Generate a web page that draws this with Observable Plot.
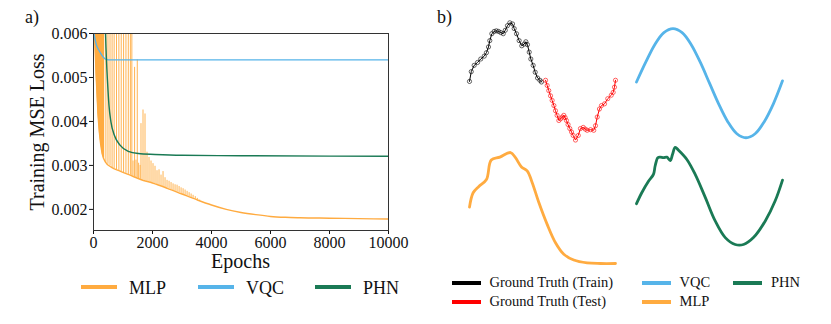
<!DOCTYPE html>
<html><head><meta charset="utf-8">
<script src="https://cdn.jsdelivr.net/npm/d3@7"></script>
<script src="https://cdn.jsdelivr.net/npm/@observablehq/plot@0.6"></script>
<style>
body{margin:0;background:#fff;}
#root{position:relative;width:831px;height:324px;overflow:hidden;background:#fff;font-family:"Liberation Serif","Times New Roman",serif;color:#111;}
.sw{position:absolute;}
.txt{position:absolute;white-space:nowrap;line-height:1;font-family:"Liberation Serif","Times New Roman",serif;}
svg{overflow:visible;}
svg text{font-family:"Liberation Serif","Times New Roman",serif !important;}
</style></head><body><div id="root"></div>
<script>
// ---------- colours ----------
const C_MLP = "#ffab40", C_VQC = "#56b4e9", C_PHN = "#1a7a55", C_TRAIN = "#000000", C_TEST = "#ff0000";

// ---------- panel a: training loss ----------
const epochTicks = [0, 2000, 4000, 6000, 8000, 10000];
const lossTicks = [0.002, 0.003, 0.004, 0.005, 0.006];

const mlpEpochs = [0, 50, 100, 150, 200, 300, 400, 600, 900, 1200, 1600, 2000, 2500, 3000, 3500, 4000, 4500, 5000, 5500, 6000, 6500, 7000, 8000, 9000, 10000];
const mlpLoss   = [0.0070, 0.00575, 0.00490, 0.00420, 0.00375, 0.00325, 0.00308, 0.00296, 0.00287, 0.00279, 0.00268, 0.00260, 0.00248, 0.00235, 0.00222, 0.00210, 0.00200, 0.00193, 0.00188, 0.00184, 0.00182, 0.00181, 0.00180, 0.00179, 0.00178];

// dense oscillation band at the start of MLP training (upper envelope above the axis)
const mlpBandEpochs = [0, 50, 100, 150, 200, 300, 380];
const mlpBandTop    = [0.0070, 0.0070, 0.0070, 0.0070, 0.0070, 0.0070, 0.0070];

// individual MLP loss spikes: epoch and peak loss
const spikeEpochs = [420, 490, 560, 630, 700, 780, 860, 940, 1020, 1100, 1180, 1250, 1300, 1340, 1393, 1440, 1484, 1530, 1580, 1610, 1678, 1746, 1814, 1882, 1950, 2017, 2085, 2153, 2221, 2289, 2357, 2425, 2493, 2561, 2629, 2697, 2765, 2833, 2901, 2969, 3037, 3105, 3173, 3241, 3309, 3376, 3450, 3520, 3600];
const spikePeaks  = [0.0070, 0.0070, 0.0070, 0.0070, 0.0070, 0.0070, 0.0070, 0.0070, 0.0070, 0.0070, 0.0070, 0.0070, 0.0070, 0.00310, 0.00523, 0.00312, 0.00540, 0.00305, 0.00300, 0.00395, 0.00426, 0.00417, 0.00330, 0.00318, 0.00310, 0.00304, 0.00298, 0.00288, 0.00290, 0.00278, 0.00286, 0.00272, 0.00266, 0.00264, 0.00261, 0.00258, 0.00256, 0.00255, 0.00252, 0.00249, 0.00247, 0.00244, 0.00241, 0.00238, 0.00235, 0.00232, 0.00229, 0.00225, 0.00221];

const vqcEpochs = [0, 50, 100, 150, 200, 250, 300, 350, 400, 450, 500, 1000, 10000];
const vqcLoss   = [0.00605, 0.00588, 0.00574, 0.00566, 0.00560, 0.00554, 0.00549, 0.00545, 0.00542, 0.00541, 0.00540, 0.00540, 0.00540];

const phnEpochs = [360, 380, 408, 442, 476, 524, 591, 704, 898, 1178, 1518, 2085, 3000, 5000, 10000];
const phnLoss   = [0.0078, 0.0068, 0.00600, 0.00535, 0.00490, 0.00437, 0.00399, 0.00369, 0.00346, 0.00332, 0.00327, 0.00325, 0.00323, 0.00322, 0.00321];

// ---------- panel b: predictions ----------
const gtTrainStep  = [0, 1.2, 3.2, 5.5, 7.7, 10.1, 11.6, 13, 13.9, 15.3, 16.9, 18.4, 19.9, 21.4, 23.1, 24.5, 26, 27.6, 29.5, 30.6, 32.2, 34, 35.8, 37.5, 38.6, 39.7, 40.9, 42, 43.6, 45, 46.6, 48.2, 49.3];
const gtTrainValue = [0.01, 0.18, 0.29, 0.34, 0.40, 0.45, 0.51, 0.61, 0.72, 0.84, 0.88, 0.89, 0.88, 0.86, 0.84, 0.90, 0.98, 1.03, 1.01, 0.93, 0.84, 0.72, 0.63, 0.66, 0.70, 0.65, 0.52, 0.40, 0.29, 0.17, 0.07, 0.03, 0.00];
const gtTestStep   = [52.1, 53.2, 54.3, 55.5, 56.6, 57.8, 58.9, 60, 61.2, 62.4, 63.5, 64.6, 65.5, 66.4, 67.5, 68.7, 69.9, 71, 72.6, 74.5, 76, 77.9, 79.3, 80.6, 82.9, 85.1, 86.3, 87.5, 89, 90.4, 92.5, 94.7, 97.1, 98.4, 99.3, 100];
const gtTestValue  = [0.03, -0.06, -0.15, -0.24, -0.32, -0.41, -0.50, -0.58, -0.67, -0.64, -0.61, -0.58, -0.62, -0.67, -0.74, -0.81, -0.87, -0.93, -1.01, -0.93, -0.81, -0.79, -0.82, -0.84, -0.83, -0.84, -0.76, -0.61, -0.47, -0.41, -0.38, -0.29, -0.23, -0.18, -0.09, 0.03];

const vqcStep  = [0, 6.25, 12.5, 18.75, 25, 31.25, 37.5, 43.75, 50, 56.25, 62.5, 68.75, 75, 81.25, 87.5, 93.75, 100];
const vqcValue = [0.00, 0.34, 0.65, 0.86, 0.93, 0.86, 0.65, 0.34, -0.02, -0.38, -0.69, -0.90, -0.97, -0.90, -0.69, -0.38, 0.02];

const mlpStep  = [0, 2.5, 6.4, 11.6, 14.9, 20.8, 28.1, 31.5, 35.6, 39.5, 42.9, 47.5, 53.2, 58.9, 64.6, 71.4, 80.6, 89.7, 100];
const mlpValue = [-0.02, 0.23, 0.34, 0.46, 0.80, 0.85, 0.93, 0.84, 0.68, 0.61, 0.41, 0.06, -0.32, -0.64, -0.84, -0.94, -0.99, -1.00, -1.00];

const phnStep  = [0, 3.6, 8.2, 11.6, 12.8, 14.6, 16.2, 18.5, 20.8, 23.1, 24.7, 26.5, 28.8, 34.5, 40.2, 47.1, 53.9, 60.8, 67.6, 73.3, 80.1, 88.2, 95, 100];
const phnValue = [0.04, 0.23, 0.43, 0.55, 0.70, 0.84, 0.85, 0.84, 0.85, 0.79, 0.90, 1.02, 0.97, 0.81, 0.55, 0.15, -0.26, -0.55, -0.67, -0.67, -0.55, -0.26, 0.09, 0.45];

// ---------- build ----------
const root = document.getElementById("root");
const zip = (xs, ys) => xs.map((x, i) => ({x, y: ys[i]}));
const mlpBase = zip(mlpEpochs, mlpLoss);
const baseAt = d3.scaleLinear().domain(mlpEpochs).range(mlpLoss);
const band = mlpBandEpochs.map((e, i) => ({x: e, y1: baseAt(e), y2: mlpBandTop[i]}));
const spikes = spikeEpochs.map((e, i) => ({x: e, y1: baseAt(e), y2: spikePeaks[i]}));

const plotA = Plot.plot({
  width: 420, height: 275, marginLeft: 93, marginRight: 32, marginTop: 33, marginBottom: 45,
  style: {fontFamily: "Liberation Serif", fontSize: "16px", color: "#111", background: "transparent", overflow: "visible"},
  x: {domain: [0, 10000], ticks: epochTicks, tickFormat: "d", tickSize: 4, tickPadding: 2, label: null},
  y: {domain: [0.00152, 0.006], ticks: lossTicks, tickFormat: ".3f", tickSize: 4, tickPadding: 2, label: null},
  marks: [
    Plot.areaY(band, {x: "x", y1: "y1", y2: "y2", fill: C_MLP, clip: true}),
    Plot.ruleX(spikes, {x: "x", y1: "y1", y2: "y2", stroke: C_MLP, strokeWidth: 0.9, clip: true}),
    Plot.line(mlpBase, {x: "x", y: "y", stroke: C_MLP, strokeWidth: 1.4, curve: "monotone-x", clip: true}),
    Plot.line(zip(vqcEpochs, vqcLoss), {x: "x", y: "y", stroke: C_VQC, strokeWidth: 1.4, curve: "monotone-x", clip: true}),
    Plot.line(zip(phnEpochs, phnLoss), {x: "x", y: "y", stroke: C_PHN, strokeWidth: 1.4, curve: "monotone-x", clip: true}),
    Plot.frame({stroke: "#333", strokeWidth: 1})
  ]
});
plotA.style.position = "absolute"; plotA.style.left = "0px"; plotA.style.top = "0px";
root.append(plotA);

function mini(left, top, marks) {
  const p = Plot.plot({
    width: 156, height: 133, margin: 5,
    style: {background: "transparent", overflow: "visible"},
    x: {domain: [0, 100], axis: null},
    y: {domain: [-1.07, 1.07], axis: null},
    marks
  });
  p.style.position = "absolute"; p.style.left = left + "px"; p.style.top = top + "px";
  root.append(p);
}
const train = zip(gtTrainStep, gtTrainValue), test = zip(gtTestStep, gtTestValue);
mini(464, 15, [
  Plot.line(train, {x: "x", y: "y", stroke: C_TRAIN, strokeWidth: 1}),
  Plot.dot(train, {x: "x", y: "y", r: 2.1, stroke: C_TRAIN, strokeOpacity: 0.75, strokeWidth: 0.8, fill: "none"}),
  Plot.line(test, {x: "x", y: "y", stroke: C_TEST, strokeWidth: 1}),
  Plot.dot(test, {x: "x", y: "y", r: 2.1, stroke: C_TEST, strokeOpacity: 0.75, strokeWidth: 0.8, fill: "none"})
]);
mini(631, 15, [Plot.line(zip(vqcStep, vqcValue), {x: "x", y: "y", stroke: C_VQC, strokeWidth: 2.8, curve: "catmull-rom"})]);
mini(464, 138.5, [Plot.line(zip(mlpStep, mlpValue), {x: "x", y: "y", stroke: C_MLP, strokeWidth: 2.8, curve: "catmull-rom"})]);
mini(631, 138.5, [Plot.line(zip(phnStep, phnValue), {x: "x", y: "y", stroke: C_PHN, strokeWidth: 2.8, curve: "catmull-rom"})]);

// ---------- texts & legends ----------
function txt(s, left, top, size, extra) {
  const d = document.createElement("div");
  d.className = "txt"; d.textContent = s;
  d.style.left = left + "px"; d.style.top = top + "px"; d.style.fontSize = size + "px";
  if (extra) Object.assign(d.style, extra);
  root.append(d); return d;
}
function sw(color, left, cy, w, h) {
  const d = document.createElement("div");
  d.className = "sw"; d.style.background = color;
  d.style.left = left + "px"; d.style.top = (cy - h / 2) + "px"; d.style.width = w + "px"; d.style.height = h + "px";
  root.append(d);
}
txt("a)", 25, 8, 18);
txt("b)", 437, 8, 18);
txt("Epochs", 240.5, 251, 20, {transform: "translateX(-50%)"});
txt("Training MSE Loss", 37, 131.5, 20, {transform: "translate(-50%,-50%) rotate(-90deg)", lineHeight: "20px"});

const legendA = [["MLP", C_MLP, 81, 129], ["VQC", C_VQC, 198, 246], ["PHN", C_PHN, 315, 363]];
legendA.forEach(([name, c, sx, tx]) => { sw(c, sx, 287, 36, 4); txt(name, tx, 278.5, 18); });

const legendB = [
  ["Ground Truth (Train)", C_TRAIN, 452, 489.5, 282.6],
  ["Ground Truth (Test)", C_TEST, 452, 489.5, 301.7],
  ["VQC", C_VQC, 642, 679.5, 282.6],
  ["MLP", C_MLP, 642, 679.5, 301.7],
  ["PHN", C_PHN, 733, 771, 282.6]
];
legendB.forEach(([name, c, sx, tx, cy]) => { sw(c, sx, cy, 29, 4); txt(name, tx, cy - 7.3, 14.5); });
</script></body></html>
